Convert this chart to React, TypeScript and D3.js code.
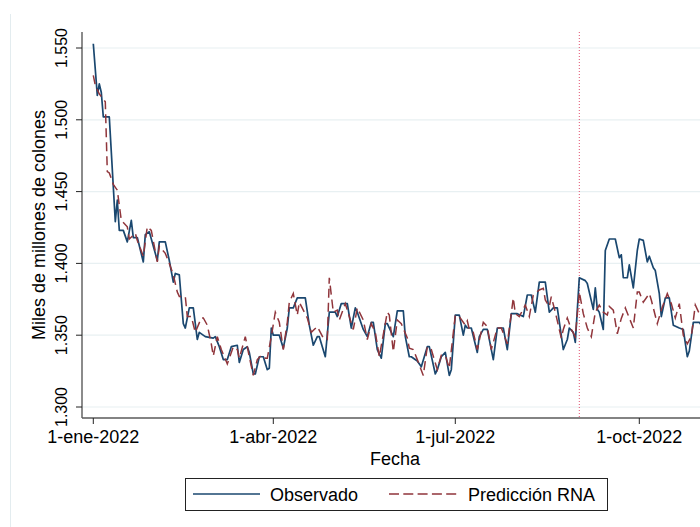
import React from "react";
import * as d3 from "d3";

// Daily series, day offset from 1-ene-2022
const obsDay = [0, 2, 3, 4, 5, 8, 11, 12, 13, 15, 17, 19, 20, 22, 25, 26, 28, 32, 33, 36, 38, 40, 41, 43, 45, 46, 48, 50, 52, 53, 56, 60, 61, 63, 65, 67, 69, 72, 73, 75, 77, 78, 80, 81, 83, 85, 87, 88, 89, 90, 93, 95, 97, 98, 100, 102, 106, 108, 110, 112, 113, 116, 118, 121, 122, 124, 127, 129, 131, 132, 135, 137, 139, 140, 142, 144, 146, 147, 150, 152, 155, 156, 158, 159, 162, 164, 167, 168, 171, 172, 174, 176, 178, 179, 181, 183, 185, 186, 187, 189, 192, 193, 195, 197, 200, 202, 205, 207, 209, 212, 215, 217, 219, 221, 223, 226, 228, 230, 232, 235, 237, 238, 240, 241, 243, 246, 247, 250, 251, 252, 253, 255, 256, 258, 261, 263, 264, 265, 267, 268, 270, 272, 273, 275, 277, 278, 280, 281, 283, 284, 286, 288, 290, 293, 295, 297, 298, 300, 303, 304];
const obsValue = [1.553, 1.517, 1.525, 1.519, 1.502, 1.502, 1.429, 1.444, 1.423, 1.423, 1.415, 1.43, 1.418, 1.418, 1.401, 1.42, 1.422, 1.402, 1.415, 1.415, 1.402, 1.387, 1.393, 1.392, 1.358, 1.355, 1.369, 1.369, 1.347, 1.352, 1.349, 1.348, 1.349, 1.342, 1.333, 1.333, 1.342, 1.343, 1.331, 1.34, 1.342, 1.338, 1.323, 1.323, 1.335, 1.335, 1.326, 1.327, 1.355, 1.35, 1.35, 1.341, 1.355, 1.369, 1.369, 1.376, 1.376, 1.357, 1.343, 1.349, 1.349, 1.335, 1.366, 1.366, 1.363, 1.372, 1.372, 1.355, 1.369, 1.366, 1.354, 1.349, 1.359, 1.359, 1.34, 1.334, 1.358, 1.358, 1.349, 1.367, 1.367, 1.349, 1.335, 1.335, 1.332, 1.328, 1.342, 1.342, 1.323, 1.326, 1.335, 1.338, 1.322, 1.326, 1.364, 1.364, 1.35, 1.357, 1.355, 1.355, 1.338, 1.349, 1.354, 1.354, 1.333, 1.355, 1.355, 1.34, 1.365, 1.365, 1.363, 1.378, 1.378, 1.366, 1.387, 1.387, 1.366, 1.369, 1.369, 1.34, 1.347, 1.355, 1.352, 1.345, 1.39, 1.388, 1.386, 1.368, 1.383, 1.368, 1.366, 1.354, 1.409, 1.417, 1.417, 1.404, 1.406, 1.39, 1.39, 1.399, 1.383, 1.409, 1.417, 1.416, 1.401, 1.405, 1.397, 1.395, 1.379, 1.363, 1.376, 1.376, 1.357, 1.355, 1.354, 1.335, 1.339, 1.359, 1.359, 1.357];

const predDay = [0, 1, 3, 6, 7, 8, 10, 12, 14, 17, 18, 21, 22, 25, 27, 29, 32, 33, 36, 38, 40, 42, 43, 46, 47, 49, 51, 54, 55, 57, 59, 60, 62, 64, 67, 70, 72, 73, 76, 78, 80, 82, 84, 86, 87, 89, 91, 93, 95, 97, 98, 100, 102, 103, 107, 109, 112, 115, 117, 118, 120, 122, 123, 126, 127, 130, 132, 135, 137, 139, 141, 143, 147, 148, 150, 152, 154, 157, 158, 160, 162, 165, 167, 169, 172, 174, 176, 178, 181, 183, 186, 187, 188, 190, 192, 195, 197, 199, 202, 204, 207, 210, 211, 213, 216, 218, 220, 223, 225, 226, 228, 229, 231, 234, 235, 237, 239, 241, 243, 245, 247, 249, 251, 253, 255, 257, 258, 260, 262, 264, 266, 270, 272, 273, 275, 278, 279, 282, 284, 287, 289, 291, 293, 295, 297, 299, 301, 303];
const predValue = [1.531, 1.524, 1.518, 1.5125, 1.464, 1.463, 1.455, 1.451, 1.43, 1.4255, 1.417, 1.421, 1.416, 1.405, 1.4255, 1.423, 1.401, 1.412, 1.407, 1.4, 1.392, 1.38, 1.377, 1.377, 1.363, 1.363, 1.352, 1.362, 1.362, 1.357, 1.344, 1.3355, 1.349, 1.34, 1.33, 1.342, 1.34, 1.334, 1.349, 1.335, 1.322, 1.333, 1.336, 1.334, 1.334, 1.349, 1.366, 1.359, 1.34, 1.359, 1.373, 1.379, 1.364, 1.373, 1.362, 1.352, 1.356, 1.348, 1.347, 1.39, 1.366, 1.3675, 1.3606, 1.372, 1.3675, 1.354, 1.369, 1.3606, 1.347, 1.358, 1.352, 1.335, 1.366, 1.364, 1.3385, 1.3606, 1.358, 1.348, 1.341, 1.34, 1.333, 1.322, 1.342, 1.34, 1.326, 1.336, 1.336, 1.327, 1.364, 1.363, 1.357, 1.36, 1.354, 1.352, 1.34, 1.359, 1.356, 1.34, 1.355, 1.355, 1.344, 1.376, 1.365, 1.363, 1.371, 1.363, 1.378, 1.3815, 1.3826, 1.3745, 1.37, 1.3768, 1.366, 1.348, 1.354, 1.362, 1.354, 1.349, 1.38, 1.365, 1.355, 1.349, 1.366, 1.371, 1.366, 1.364, 1.37, 1.3675, 1.351, 1.3617, 1.369, 1.355, 1.38, 1.38, 1.373, 1.379, 1.3745, 1.358, 1.3675, 1.379, 1.372, 1.362, 1.372, 1.35, 1.344, 1.349, 1.371, 1.365];

const yTicks = [1.3, 1.35, 1.4, 1.45, 1.5, 1.55];
const xTickDates = ["2022-01-01", "2022-04-01", "2022-07-01", "2022-10-01"];
const xTickLabels = ["1-ene-2022", "1-abr-2022", "1-jul-2022", "1-oct-2022"];
const forecastStart = "2022-09-01";
const seriesNames = ["Observado", "Predicción RNA"];

const BLUE = "#1a476f";
const RED = "#90353b";
const FONT = "'Liberation Sans', Arial, Helvetica, sans-serif";

const W = 700;
const H = 527;
const plot = { left: 82, top: 32, right: 700, bottom: 418 };

const start = Date.UTC(2022, 0, 1);
const dayDate = (d: number) => new Date(start + d * 86400000);
const parse = (s: string) => {
  const [y, m, d] = s.split("-").map(Number);
  return new Date(Date.UTC(y, m - 1, d));
};

export default function App() {
  const x = d3
    .scaleUtc()
    .domain([parse("2022-01-01"), parse("2022-10-01")])
    .range([93.3, 639.3]);
  const y = d3.scaleLinear().domain([1.3, 1.55]).range([407, 48]);

  const obs = obsDay.map((d, i) => [dayDate(d), obsValue[i]] as [Date, number]);
  const pred = predDay.map((d, i) => [dayDate(d), predValue[i]] as [Date, number]);
  const line = d3
    .line<[Date, number]>()
    .x((p) => x(p[0]))
    .y((p) => y(p[1]));

  const fmt = d3.format(".3f");
  const vx = x(parse(forecastStart));

  return (
    <svg
      width={W}
      height={H}
      style={{ position: "absolute", left: 0, top: 0, background: "#fff" }}
      fontFamily={FONT}
    >
      <rect x={0} y={0} width={W} height={H} fill="#fff" />
      <line x1={10.5} x2={10.5} y1={14} y2={H} stroke="#e3ecef" strokeWidth={1} />
      <defs>
        <clipPath id="plotclip">
          <rect x={plot.left} y={plot.top} width={plot.right - plot.left} height={plot.bottom - plot.top} />
        </clipPath>
      </defs>

      {/* horizontal grid */}
      {yTicks.map((t) => (
        <line key={"g" + t} x1={plot.left} x2={plot.right} y1={y(t)} y2={y(t)} stroke="#e8f0f2" strokeWidth={1.2} />
      ))}

      {/* forecast start marker */}
      <line x1={vx} x2={vx} y1={plot.top} y2={plot.bottom} stroke="#e0506e" strokeWidth={1} strokeDasharray="1,2" />

      <g clipPath="url(#plotclip)">
        <path d={line(obs) ?? ""} fill="none" stroke={BLUE} strokeWidth={1.7} strokeLinejoin="round" />
        <path d={line(pred) ?? ""} fill="none" stroke={RED} strokeWidth={1.5} strokeDasharray="9,5" />
      </g>

      {/* axes */}
      <line x1={plot.left} x2={plot.left} y1={plot.top} y2={plot.bottom} stroke="#5a5a5a" strokeWidth={1.4} />
      <line x1={plot.left} x2={plot.right} y1={plot.bottom} y2={plot.bottom} stroke="#5a5a5a" strokeWidth={1.4} />

      {yTicks.map((t) => (
        <g key={"y" + t}>
          <line x1={plot.left - 6} x2={plot.left} y1={y(t)} y2={y(t)} stroke="#222" strokeWidth={1} />
          <text
            transform={`translate(67,${y(t)}) rotate(-90)`}
            textAnchor="middle"
            fontSize={16}
            fill="#000"
          >
            {fmt(t)}
          </text>
        </g>
      ))}

      {xTickDates.map((s, i) => (
        <g key={s}>
          <line x1={x(parse(s))} x2={x(parse(s))} y1={plot.bottom} y2={plot.bottom + 6} stroke="#222" strokeWidth={1} />
          <text x={x(parse(s))} y={443} textAnchor="middle" fontSize={18} fill="#000">
            {xTickLabels[i]}
          </text>
        </g>
      ))}

      <text x={395} y={465} textAnchor="middle" fontSize={18} fill="#000">
        Fecha
      </text>
      <text transform={`translate(45,${(plot.top + plot.bottom) / 2}) rotate(-90)`} textAnchor="middle" fontSize={18} fill="#000">
        Miles de millones de colones
      </text>

      {/* legend */}
      <rect x={185.5} y={478.5} width={422} height={32} fill="#fff" stroke="#222" strokeWidth={1} />
      <line x1={193} x2={260} y1={494} y2={494} stroke={BLUE} strokeWidth={1.5} />
      <text x={270} y={501} fontSize={18} fill="#000">
        {seriesNames[0]}
      </text>
      <line x1={389} x2={457} y1={494} y2={494} stroke={RED} strokeWidth={1.5} strokeDasharray="10,4.3" />
      <text x={468} y={501} fontSize={18} fill="#000">
        {seriesNames[1]}
      </text>
    </svg>
  );
}
